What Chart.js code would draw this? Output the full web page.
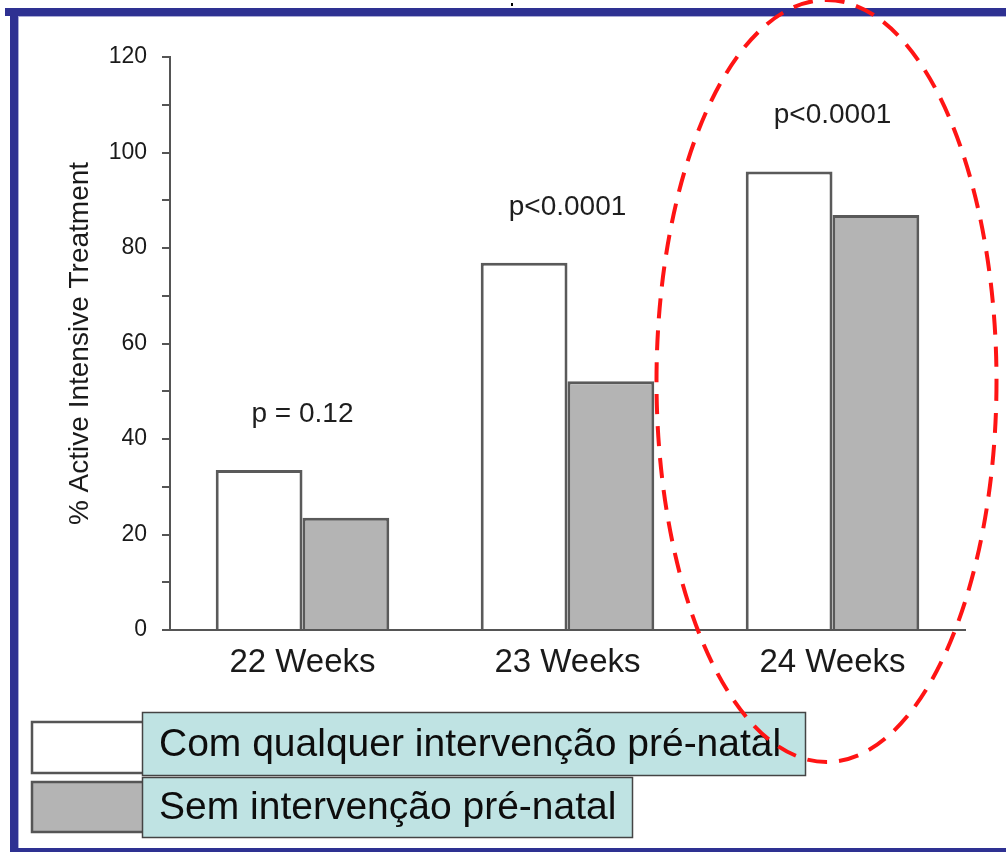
<!DOCTYPE html>
<html>
<head>
<meta charset="utf-8">
<script src="https://cdn.jsdelivr.net/npm/chart.js@4.4.1/dist/chart.umd.min.js"></script>
<style>
  html, body { margin: 0; padding: 0; background: #ffffff; }
  canvas { display: block; }
</style>
</head>
<body>
<canvas id="c" width="1006" height="852"></canvas>
<script>
// ---- data ----
const categories = ['22 Weeks', '23 Weeks', '24 Weeks'];
const seriesNames = ['Com qualquer intervenção pré-natal', 'Sem intervenção pré-natal'];
const withIntervention = [33.5, 76.9, 96.0];
const withoutIntervention = [23.5, 52.1, 86.9];
const pValues = ['p = 0.12', 'p<0.0001', 'p<0.0001'];
const yTitle = '% Active Intensive Treatment';
const yMin = 0, yMax = 120, yMajorStep = 20, yMinorStep = 10;

const FONT = '"Liberation Sans", Arial, Helvetica, sans-serif';
Chart.defaults.font.family = FONT;
Chart.defaults.color = '#1a1a1a';

const decorations = {
  id: 'decorations',
  beforeDraw(chart) {
    const ctx = chart.ctx;
    ctx.save();
    ctx.fillStyle = '#ffffff';
    ctx.fillRect(0, 0, chart.width, chart.height);
    ctx.restore();
  },
  afterDraw(chart) {
    const ctx = chart.ctx;
    const xs = chart.scales.x, ys = chart.scales.y;
    ctx.save();

    // p-value labels above each group
    ctx.font = '28px ' + FONT;
    ctx.fillStyle = '#1e1e1e';
    ctx.textAlign = 'center';
    ctx.textBaseline = 'middle';
    categories.forEach((c, i) => {
      const top = Math.max(withIntervention[i], withoutIntervention[i]);
      ctx.fillText(pValues[i], xs.getPixelForValue(i), ys.getPixelForValue(top) - 56);
    });

    // custom legend (swatches + teal label boxes)
    const ds = chart.data.datasets;
    const rows = [
      { sw: [32, 722, 115, 51], box: [142, 712, 663, 63], ty: 745 },
      { sw: [32, 782, 115, 50], box: [142, 777, 490, 60], ty: 808 }
    ];
    rows.forEach((r, i) => {
      ctx.fillStyle = ds[i].backgroundColor;
      ctx.fillRect(r.sw[0], r.sw[1], r.sw[2], r.sw[3]);
      ctx.lineWidth = 2.5;
      ctx.strokeStyle = '#555555';
      ctx.strokeRect(r.sw[0], r.sw[1], r.sw[2], r.sw[3]);
    });
    rows.forEach((r, i) => {
      ctx.fillStyle = '#bfe3e3';
      ctx.fillRect(r.box[0], r.box[1], r.box[2], r.box[3]);
      ctx.lineWidth = 1.5;
      ctx.strokeStyle = '#444444';
      ctx.strokeRect(r.box[0] + 0.5, r.box[1] + 0.5, r.box[2], r.box[3]);
      ctx.fillStyle = '#0d0d0d';
      ctx.font = '39px ' + FONT;
      ctx.textAlign = 'left';
      ctx.textBaseline = 'middle';
      ctx.fillText(ds[i].label, 159, r.ty);
    });

    // slide frame (blue border)
    ctx.fillStyle = '#2e3192';
    ctx.fillRect(5, 8, chart.width - 5, 8);
    ctx.fillRect(10, 8, 8, chart.height - 8);
    ctx.fillRect(10, 848, chart.width - 10, 4);
    ctx.fillStyle = '#a9abd6';
    ctx.fillRect(18, 16, chart.width - 18, 1);
    ctx.fillRect(18, 16, 1, 832);
    ctx.fillStyle = '#000000';
    ctx.fillRect(511, 3, 2, 3);

    // red dashed ellipse around the 24-week group
    const cx = xs.getPixelForValue(2) - 6;
    ctx.beginPath();
    ctx.setLineDash([20, 12]);
    ctx.lineWidth = 4;
    ctx.strokeStyle = '#ff1414';
    ctx.ellipse(cx, 381, 170, 381, 0, 0, Math.PI * 2);
    ctx.stroke();
    ctx.restore();
  }
};

new Chart(document.getElementById('c'), {
  type: 'bar',
  data: {
    labels: categories,
    datasets: [
      { label: seriesNames[0], data: withIntervention, backgroundColor: '#ffffff', borderColor: '#5a5a5a', borderWidth: 3 },
      { label: seriesNames[1], data: withoutIntervention, backgroundColor: '#b4b4b4', borderColor: '#5a5a5a', borderWidth: 3 }
    ]
  },
  options: {
    responsive: false,
    devicePixelRatio: 1,
    animation: false,
    layout: { padding: { left: 0, top: 57, right: 41, bottom: 0 } },
    datasets: { bar: { categoryPercentage: 0.655, barPercentage: 1.0 } },
    plugins: { legend: { display: false }, tooltip: { enabled: false } },
    scales: {
      x: {
        afterFit(s) { s.height = 222; },
        grid: { display: true, drawOnChartArea: false, drawTicks: false },
        border: { color: '#555555', width: 2 },
        ticks: { font: { size: 33 }, color: '#1a1a1a', padding: 13 }
      },
      y: {
        min: yMin, max: yMax,
        afterFit(s) { s.width = 170; },
        grid: { drawOnChartArea: false, drawTicks: true, tickLength: 8, color: '#555555', lineWidth: 2 },
        border: { color: '#555555', width: 2 },
        ticks: {
          stepSize: yMinorStep, autoSkip: false, padding: 15,
          font: { size: 23 }, color: '#1a1a1a',
          callback: v => (v % yMajorStep === 0 ? String(v) : '')
        },
        title: { display: true, text: yTitle, font: { size: 28 }, color: '#1a1a1a', padding: { top: 63, bottom: 0 } }
      }
    }
  },
  plugins: [decorations]
});
</script>
</body>
</html>
